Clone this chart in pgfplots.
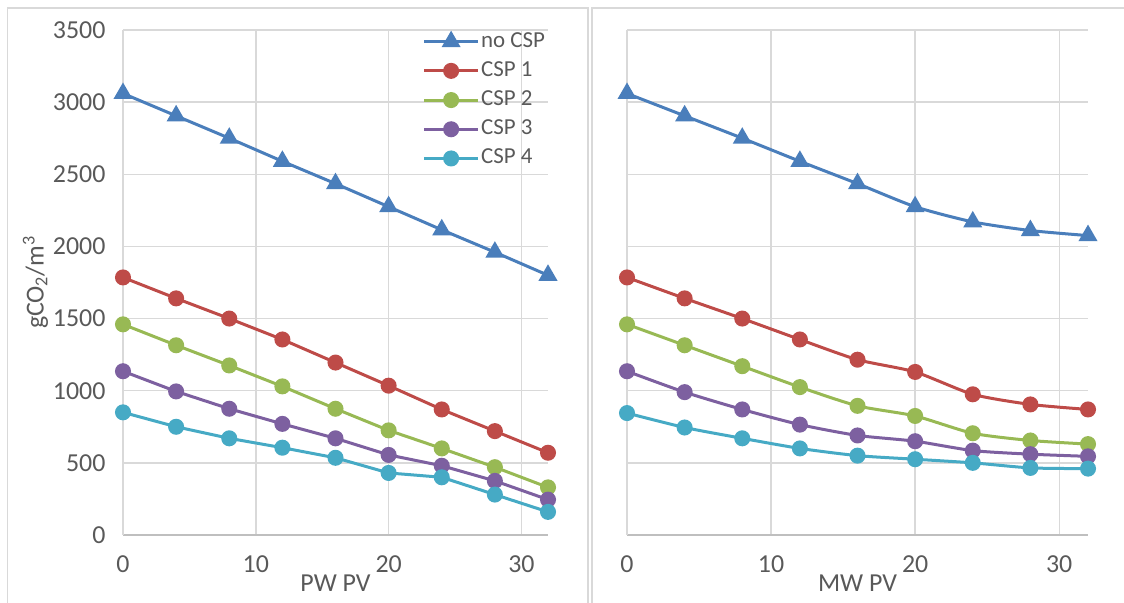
\documentclass[border=0pt]{standalone}
\usepackage{fontspec}
\setmainfont{Carlito}
\usepackage{pgfplots}
\pgfplotsset{compat=1.18}
\definecolor{cblue}{HTML}{4A7EBB}
\definecolor{cred}{HTML}{BE4B48}
\definecolor{cgreen}{HTML}{98B954}
\definecolor{cpurple}{HTML}{7D60A0}
\definecolor{cteal}{HTML}{46AAC5}
\definecolor{txtgray}{HTML}{595959}
\definecolor{gridc}{HTML}{D9D9D9}
\definecolor{axisc}{HTML}{BFBFBF}
\definecolor{framec}{HTML}{D9D9D9}

\pgfplotsset{
  myax/.style={
    scale only axis,
    height=505bp,
    xmin=0, xmax=32, ymin=0, ymax=3500,
    xtick={0,10,20,30},
    ytick={0,500,1000,1500,2000,2500,3000,3500},
    grid=major,
    major grid style={color=gridc, line width=1.4bp},
    axis x line*=bottom,
    axis y line*=left,
    x axis line style={color=axisc, line width=1.6bp, -},
    y axis line style={color=gridc, line width=1.4bp, -},
    major tick length=0pt,
    tick style={draw=none},
    /pgf/number format/assume math mode=true,
    /pgf/number format/1000 sep={},
    ticklabel style={font=\fontsize{26}{30}\selectfont, text=txtgray},
    xticklabel style={yshift=-17bp},
    yticklabel style={xshift=-14bp},
    label style={font=\fontsize{26}{30}\selectfont, text=txtgray},
    every axis plot/.append style={line width=3bp},
    clip=false,
  },
  s0/.style={color=cblue, mark=triangle*, mark size=8bp, mark options={solid}},
  s1/.style={color=cred, mark=*, mark size=6.5bp},
  s2/.style={color=cgreen, mark=*, mark size=6.5bp},
  s3/.style={color=cpurple, mark=*, mark size=6.5bp},
  s4/.style={color=cteal, mark=*, mark size=6.5bp},
}

\begin{document}
\begin{tikzpicture}[x=1bp,y=1bp]
\useasboundingbox (0,0) rectangle (1124,603);
\draw[color=framec, line width=1.5bp] (7.5,-10) rectangle (588,595);
\draw[color=framec, line width=1.5bp] (592,-10) rectangle (1140,595);

\begin{axis}[myax, at={(123bp,68bp)}, anchor=south west, width=425bp,
  xlabel={PW PV},
  ylabel={gCO\textsubscript{2}/m\textsuperscript{3}},
  xlabel style={yshift=4bp},
  ylabel style={yshift=-2bp},
  legend style={draw=none, fill=none, at={(rel axis cs:1.004,1.005)}, anchor=north east,
    font=\fontsize{23}{26}\selectfont, text=txtgray,
    legend cell align=left, row sep=5.2bp,
    nodes={inner sep=1.5bp, text height=16bp, text depth=5bp}},
  legend image code/.code={\draw[mark repeat=2, mark phase=2] plot coordinates {(0bp,0bp) (27bp,0bp) (54bp,0bp)};},
]
\addplot[s0] coordinates {(0,3060) (4,2905) (8,2750) (12,2590) (16,2435) (20,2275) (24,2115) (28,1960) (32,1800)};
\addlegendentry{no CSP}
\addplot[s1] coordinates {(0,1785) (4,1640) (8,1500) (12,1355) (16,1195) (20,1035) (24,870) (28,720) (32,570)};
\addlegendentry{CSP 1}
\addplot[s2] coordinates {(0,1460) (4,1315) (8,1175) (12,1030) (16,875) (20,725) (24,600) (28,470) (32,330)};
\addlegendentry{CSP 2}
\addplot[s3] coordinates {(0,1135) (4,995) (8,875) (12,770) (16,670) (20,555) (24,480) (28,375) (32,245)};
\addlegendentry{CSP 3}
\addplot[s4] coordinates {(0,850) (4,750) (8,670) (12,605) (16,535) (20,430) (24,400) (28,280) (32,160)};
\addlegendentry{CSP 4}
\end{axis}

\begin{axis}[myax, at={(627bp,68bp)}, anchor=south west, width=461bp,
  xlabel={MW PV},
  xlabel style={yshift=4bp},
  yticklabels={},
]
\addplot[s0, smooth, tension=0.4] coordinates {(0,3060) (4,2905) (8,2750) (12,2590) (16,2435) (20,2275) (24,2170) (28,2110) (32,2075)};
\addplot[s1, smooth, tension=0.4] coordinates {(0,1785) (4,1640) (8,1500) (12,1355) (16,1215) (20,1130) (24,975) (28,905) (32,870)};
\addplot[s2, smooth, tension=0.4] coordinates {(0,1460) (4,1315) (8,1170) (12,1025) (16,895) (20,825) (24,705) (28,655) (32,630)};
\addplot[s3, smooth, tension=0.4] coordinates {(0,1135) (4,990) (8,870) (12,765) (16,690) (20,650) (24,585) (28,560) (32,545)};
\addplot[s4, smooth, tension=0.4] coordinates {(0,845) (4,745) (8,670) (12,600) (16,550) (20,525) (24,500) (28,465) (32,460)};
\end{axis}
\end{tikzpicture}
\end{document}
